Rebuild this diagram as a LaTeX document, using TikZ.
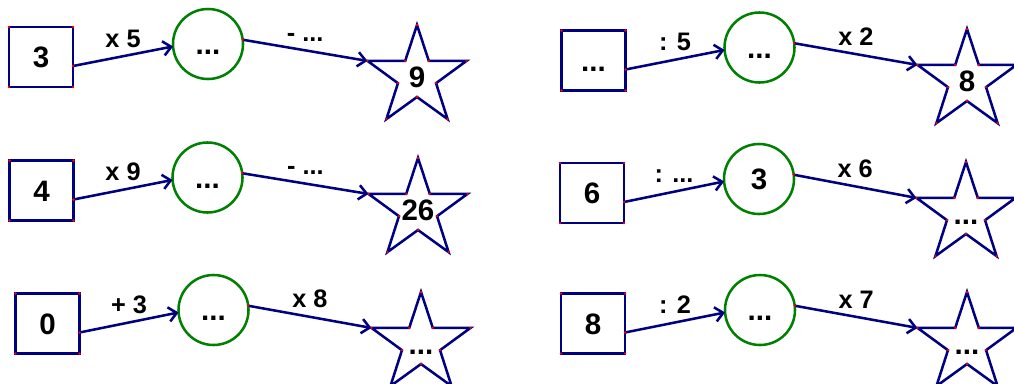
\documentclass[tikz,border=0pt]{standalone}
\usepackage{fontspec}
\setmainfont{Liberation Sans}
\usetikzlibrary{arrows.meta, shapes.geometric, calc}
\definecolor{chainblue}{RGB}{0,0,128}
\definecolor{chaingreen}{RGB}{0,128,0}
\newcommand{\opArrow}{{Straight Barb[length=2mm, width=3.6mm]}}
\newcommand{\boxdots}[1]{\foreach \a in {north west, north east, south west, south east} {\fill[red] (#1.\a) circle (0.9pt);}}
\newcommand{\stardots}[1]{\foreach \i in {1,...,5} {\fill[red] (#1.outer point \i) circle (0.9pt); \fill[red] (#1.inner point \i) circle (0.9pt);}}

\tikzset{
	numtext/.style={text height=15pt, text depth=0pt, font=\bfseries\fontsize{21}{24}\selectfont},
	numbox/.style={numtext, draw=chainblue, line width=1.8pt, minimum width=1.6cm, minimum height=1.5cm, inner sep=0pt, outer sep=0pt},
	midcirc/.style={numtext, circle, draw=chaingreen, line width=1.8pt, minimum size=1.75cm, inner sep=0pt, outer sep=0pt},
	goalstar/.style={star, star points=5, star point ratio=2.6, draw=chainblue, line width=1.8pt, minimum size=2.6cm, inner sep=0pt, outer sep=0pt},
	startext/.style={numtext, inner sep=0pt},
	oparrow/.style={draw=chainblue, line width=1.8pt, -\opArrow},
	oplabel/.style={above=2pt, font=\bfseries\fontsize{18}{20}\selectfont}
}

\begin{document}
\begin{tikzpicture}[x=0.025cm, y=-0.025cm]
	\useasboundingbox (0,0) rectangle (1014,383);

	% left column
	\node[numbox] (q1) at (41,57) {3};
	\node[midcirc] (c1) at (208,44) {...};
	\node[goalstar] (s1) at (417,77) {};
	\node[startext] (t1) at (s1) {9};
	\coordinate (q1out) at ($(q1.east)+(0,9)$);
	\draw[oparrow] (q1out) -- (c1.184) node[midway, oplabel] {x 5};
	\draw[oparrow] (c1.7) -- (s1.outer point 2) node[midway, oplabel] {- ...};

	\node[numbox] (q2) at (41.5,190.5) {4};
	\node[midcirc] (c2) at (207.5,177.5) {...};
	\node[goalstar] (s2) at (418,210) {};
	\node[startext] (t2) at (s2) {26};
	\coordinate (q2out) at ($(q2.east)+(0,9)$);
	\draw[oparrow] (q2out) -- (c2.184) node[midway, oplabel] {x 9};
	\draw[oparrow] (c2.7) -- (s2.outer point 2) node[midway, oplabel] {- ...};

	\node[numbox] (q3) at (47.5,323.5) {0};
	\node[midcirc] (c3) at (213.5,310) {...};
	\node[goalstar] (s3) at (421,344) {};
	\node[startext] (t3) at (s3) {...};
	\coordinate (q3out) at ($(q3.east)+(0,9)$);
	\draw[oparrow] (q3out) -- (c3.184) node[midway, oplabel] {+ 3};
	\draw[oparrow] (c3.7) -- (s3.outer point 2) node[midway, oplabel] {x 8};

	% right column
	\node[numbox] (q4) at (593.5,60.5) {...};
	\node[midcirc] (c4) at (759.5,47.5) {...};
	\node[goalstar] (s4) at (967,81) {};
	\node[startext] (t4) at (s4) {8};
	\coordinate (q4out) at ($(q4.east)+(0,9)$);
	\draw[oparrow] (q4out) -- (c4.184) node[midway, oplabel] {: 5};
	\draw[oparrow] (c4.7) -- (s4.outer point 2) node[midway, oplabel] {x 2};

	\node[numbox] (q5) at (592,193) {6};
	\node[midcirc] (c5) at (759,179) {3};
	\node[goalstar] (s5) at (966,214) {};
	\node[startext] (t5) at (s5) {...};
	\coordinate (q5out) at ($(q5.east)+(0,9)$);
	\draw[oparrow] (q5out) -- (c5.184) node[midway, oplabel] {: ...};
	\draw[oparrow] (c5.7) -- (s5.outer point 2) node[midway, oplabel] {x 6};

	\node[numbox] (q6) at (593,323.5) {8};
	\node[midcirc] (c6) at (760,310) {...};
	\node[goalstar] (s6) at (967,344) {};
	\node[startext] (t6) at (s6) {...};
	\coordinate (q6out) at ($(q6.east)+(0,9)$);
	\draw[oparrow] (q6out) -- (c6.184) node[midway, oplabel] {: 2};
	\draw[oparrow] (c6.7) -- (s6.outer point 2) node[midway, oplabel] {x 7};

	% vertex points
	\foreach \k in {1,...,6} {
		\boxdots{q\k}
		\stardots{s\k}
		\fill[red] (q\k out) circle (0.9pt);
		\fill[red] (c\k.7) circle (0.9pt);
	}
\end{tikzpicture}
\end{document}
